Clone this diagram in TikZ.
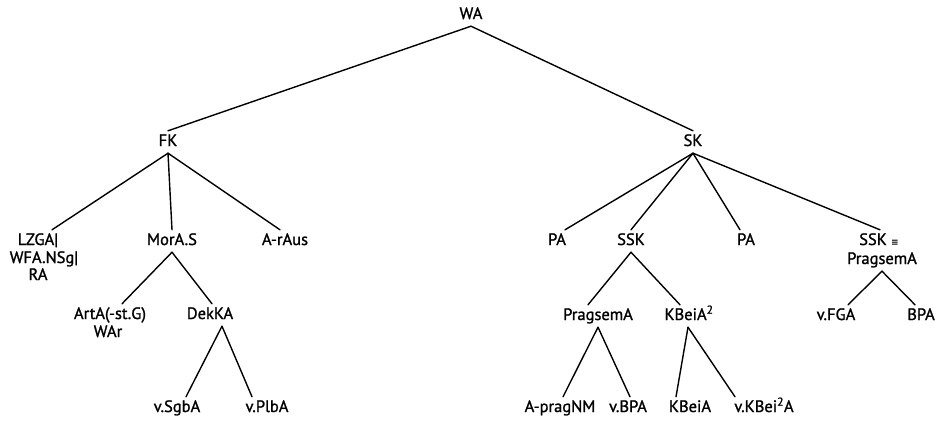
\documentclass[tikz,border=0pt]{standalone}
\usepackage{fontspec}
\setmainfont{PT Sans}[AutoFakeBold=1.3]
\newfontfamily\symf{DejaVu Sans}
\begin{document}
\begin{tikzpicture}[x=1pt,y=-1pt,
  lbl/.style={font=\fontsize{16.5}{18}\selectfont\bfseries, text height=11.5pt, text depth=3.5pt, inner xsep=1pt, inner ysep=3.5pt},
  edge/.style={line width=1.4pt, line cap=round}]
\useasboundingbox (0,0) rectangle (951,421);
% level 0
\node[lbl] (wa) at (471,15) {WA};
% level 1
\node[lbl] (fk) at (168,142) {FK};
\node[lbl] (sk) at (693,142) {SK};
% level 2 left
\node[lbl] (lz1) at (38,241) {LZGA|};
\node[lbl] (lz2) at (44,259) {WFA.NSg|};
\node[lbl] (lz3) at (38,276) {RA};
\node[lbl] (mor) at (172,241) {MorA.S};
\node[lbl] (raus) at (285,241) {A-rAus};
% level 2 right
\node[lbl] (pal) at (557,241) {PA};
\node[lbl] (ssk) at (631,241) {SSK};
\node[lbl] (par) at (746,241) {PA};
\node[lbl] (sskx) at (879,241) {SSK {\symf\fontsize{9}{10}\selectfont ≡}};
\node[lbl] (psx) at (882,260) {PragsemA};
% level 3 left
\node[lbl] (art1) at (110,315) {ArtA(-st.G)};
\node[lbl] (art2) at (108,333) {WAr};
\node[lbl] (dek) at (210,315) {DekKA};
% level 3 right
\node[lbl] (prg) at (598,316) {PragsemA};
\node[lbl] (kbei) at (689,316) {KBeiA\textsuperscript{2}};
\node[lbl] (vfga) at (836,316) {v.FGA};
\node[lbl] (bpa) at (921,316) {BPA};
% level 4
\node[lbl] (sgb) at (177,408) {v.SgbA};
\node[lbl] (plb) at (267,408) {v.PlbA};
\node[lbl] (apn) at (560,408) {A-pragNM};
\node[lbl] (vbpa) at (628,408) {v.BPA};
\node[lbl] (kb) at (690,408) {KBeiA};
\node[lbl] (vkb) at (764,408) {v.KBei\textsuperscript{2}A};
% connectors
\draw[edge] (wa.south) -- (fk.north);
\draw[edge] (wa.south) -- (sk.north);
\draw[edge] (fk.south) -- ([xshift=14pt]lz1.north);
\draw[edge] (fk.south) -- (mor.north);
\draw[edge] (fk.south) -- ([xshift=-5pt]raus.north);
\draw[edge] (mor.south) -- ([xshift=12pt]art1.north);
\draw[edge] (mor.south) -- ([xshift=2pt]dek.north);
\draw[edge] ([xshift=12pt]dek.south) -- ([xshift=9pt]sgb.north);
\draw[edge] ([xshift=12pt]dek.south) -- ([xshift=-15pt]plb.north);
\draw[edge] (sk.south) -- ([xshift=8pt]pal.north);
\draw[edge] (sk.south) -- (ssk.north);
\draw[edge] (sk.south) -- ([xshift=-6pt]par.north);
\draw[edge] (sk.south) -- ([xshift=1pt]sskx.north);
\draw[edge] (ssk.south) -- ([xshift=-10pt]prg.north);
\draw[edge] (ssk.south) -- ([xshift=-9pt]kbei.north);
\draw[edge] (prg.south) -- ([xshift=3pt]apn.north);
\draw[edge] (prg.south) -- ([xshift=2pt]vbpa.north);
\draw[edge] ([xshift=-1pt]kbei.south) -- ([xshift=-14pt]kb.north);
\draw[edge] ([xshift=-1pt]kbei.south) -- ([xshift=-29pt]vkb.north);
\draw[edge] (psx.south) -- ([xshift=12pt]vfga.north);
\draw[edge] (psx.south) -- ([xshift=-6pt]bpa.north);
\end{tikzpicture}
\end{document}
